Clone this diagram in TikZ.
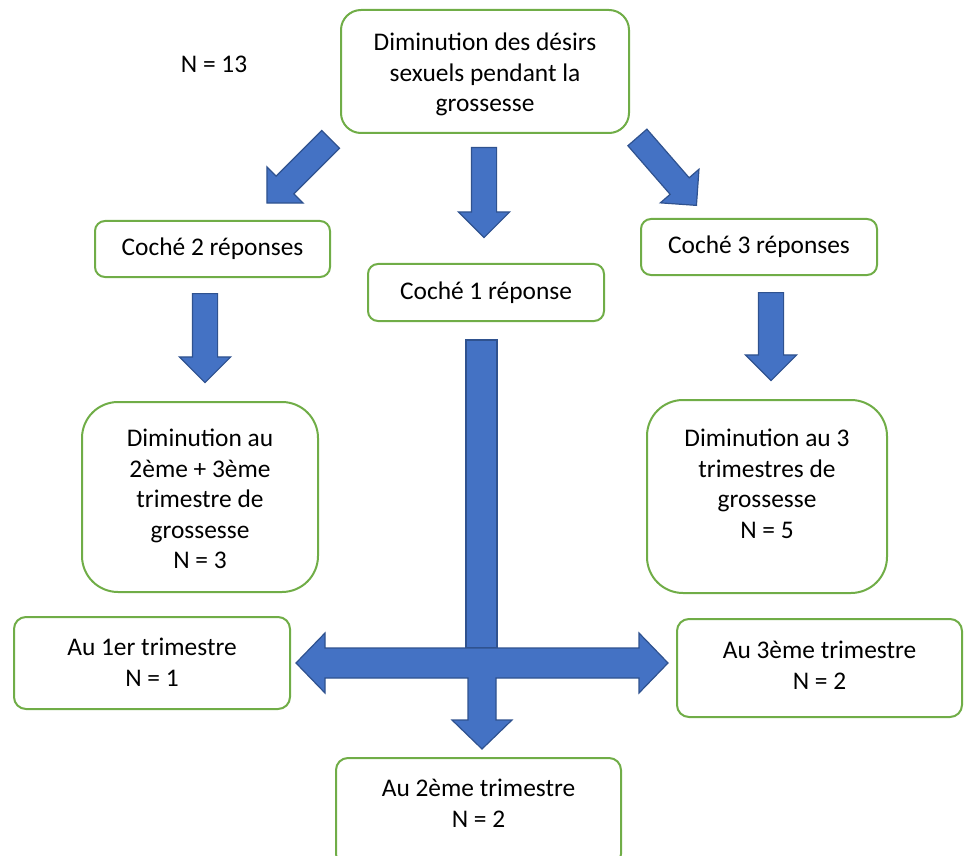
\documentclass[tikz,border=0pt]{standalone}
\usepackage{fontspec}
\setmainfont{Carlito}
\usetikzlibrary{shapes.arrows}
\definecolor{boxgreen}{HTML}{70AD47}
\definecolor{arrowblue}{HTML}{4472C4}
\definecolor{arrowline}{HTML}{2F528F}
\begin{document}
\begin{tikzpicture}[
  x=0.5pt, y=-0.5pt,
  font=\fontsize{12.7}{15.3}\selectfont,
  box/.style={rectangle, draw=boxgreen, line width=1pt, rounded corners=5pt, align=center, inner sep=0pt},
  bigarrow/.style={single arrow, draw=arrowline, fill=arrowblue, line width=0.6pt, inner xsep=0pt, inner ysep=6pt,
    minimum height=45pt, single arrow head extend=6.5pt, single arrow head indent=0pt, anchor=tail},
  tarrow/.style={draw=arrowline, fill=arrowblue, line width=0.6pt}
]
  \useasboundingbox (0,0) rectangle (965,856);

  % Question
  \node[box, rounded corners=10pt, minimum width=144pt, minimum height=61.5pt] (desirs) at (485,71.5) {};
  \node[align=center] (desirstxt) at (485,74.5) {Diminution des désirs\\sexuels pendant la\\grossesse};
  \node (total) at (214,64) {N = 13};

  % Nombre de réponses
  \node[box, minimum width=117.5pt, minimum height=28pt] (coche2) at (212.5,249) {Coché 2 réponses};
  \node[box, minimum width=118pt, minimum height=28.5pt] (coche1) at (486,292.5) {Coché 1 réponse};
  \node[box, minimum width=118pt, minimum height=28pt] (coche3) at (759,247) {Coché 3 réponses};

  % Plusieurs trimestres
  \node[box, rounded corners=18pt, minimum width=118pt, minimum height=95pt] (dim23) at (200,497) {};
  \node[align=center] (dim23txt) at (200,499) {Diminution au\\2ème + 3ème\\trimestre de\\grossesse\\N = 3};
  \node[box, rounded corners=18pt, minimum width=120pt, minimum height=96.5pt] (dim3) at (767,496.5) {};
  \node[align=center] (dim3txt) at (767,484) {Diminution au 3\\trimestres de\\grossesse\\N = 5};

  % Un seul trimestre
  \node[box, rounded corners=6pt, minimum width=138pt, minimum height=46pt] (trim1) at (152,663) {};
  \node[align=center] (trim1txt) at (152,662) {Au 1er trimestre\\N = 1};
  \node[box, rounded corners=6pt, minimum width=142.5pt, minimum height=49pt] (trim3) at (819.5,668) {};
  \node[align=center] (trim3txt) at (819.5,665) {Au 3ème trimestre\\N = 2};
  \node[box, rounded corners=6pt, minimum width=142.5pt, minimum height=54pt] (trim2) at (478.5,812) {};
  \node[align=center] (trim2txt) at (478.5,803) {Au 2ème trimestre\\N = 2};

  % Flèches
  \node[bigarrow, rotate=-135] (fl2) at (331,139) {};
  \node[bigarrow, rotate=-90] (fl1) at (484,147) {};
  \node[bigarrow, rotate=-49] (fl3) at (637,137) {};
  \node[bigarrow, rotate=-90, minimum height=44.5pt] (fl23) at (205,293) {};
  \node[bigarrow, rotate=-90, minimum height=44pt] (fl33) at (771,292) {};

  % Flèche en T
  \draw[tarrow] (466,340) rectangle (497,648);
  \draw[tarrow] (325,648) -- (325,633) -- (296,663) -- (325,693) -- (325,678) -- (468,678) -- (468,720)
    -- (452,720) -- (482,749) -- (512,720) -- (496,720) -- (496,678) -- (639,678) -- (639,693)
    -- (668,663) -- (639,633) -- (639,648) -- cycle;
\end{tikzpicture}
\end{document}
